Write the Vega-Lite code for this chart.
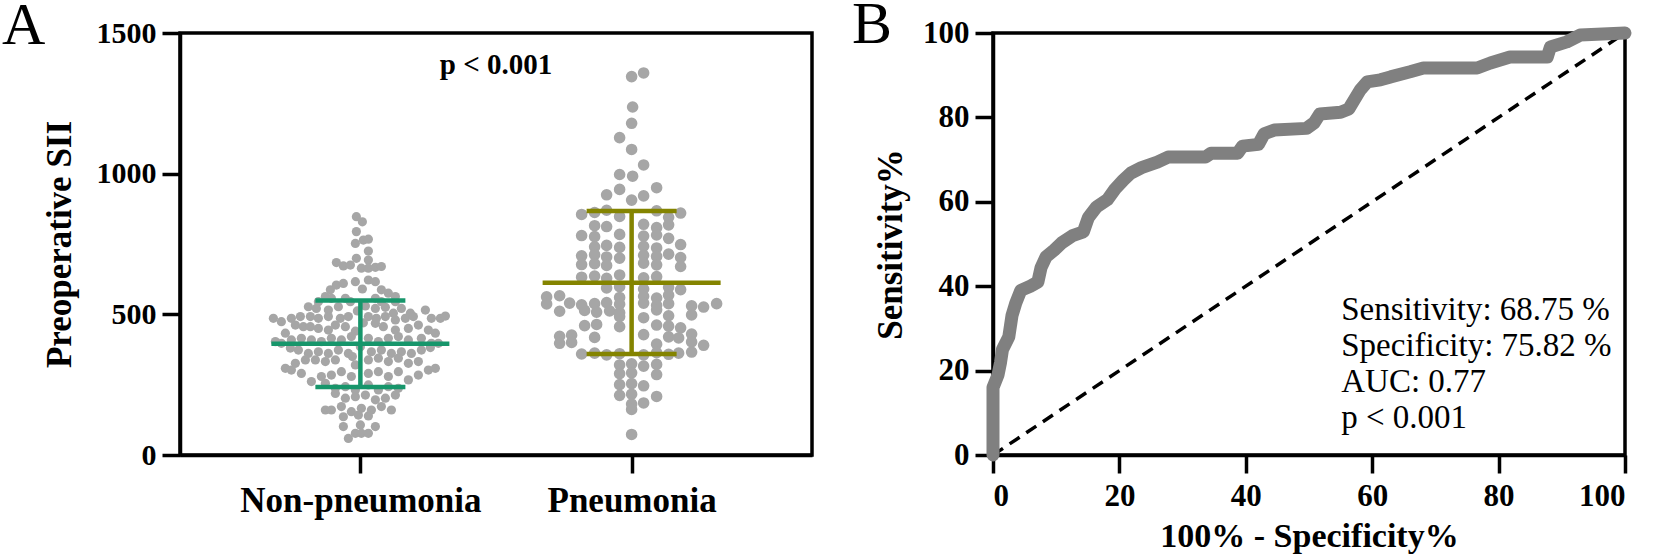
{
  "$schema": "https://vega.github.io/schema/vega-lite/v6.json",
  "background": "white",
  "padding": {"left": 0, "top": -7, "right": 0, "bottom": 0},
  "spacing": 36,
  "config": {
    "font": "Liberation Serif",
    "view": {"stroke": "black", "strokeWidth": 3.5},
    "axis": {
      "grid": false,
      "domainColor": "black", "domainWidth": 3.5,
      "tickColor": "black", "tickWidth": 3.5, "tickSize": 18,
      "labelColor": "black", "labelFont": "Liberation Serif", "labelFontWeight": "bold", "labelLimit": 500,
      "titleColor": "black", "titleFont": "Liberation Serif", "titleFontWeight": "bold"
    },
    "title": {"font": "Liberation Serif", "fontWeight": "normal", "color": "black", "fontSize": 60, "anchor": "start", "frame": "group", "baseline": "alphabetic"}
  },
  "hconcat": [
    {
      "width": 632,
      "height": 422,
      "title": {"text": "A", "dx": -178, "dy": 43},
      "layer": [
        {
          "data": {"values": [
            {"group": "Non-pneumonia", "sii": 847, "jitter": -4},
            {"group": "Non-pneumonia", "sii": 829, "jitter": 2},
            {"group": "Non-pneumonia", "sii": 794, "jitter": -4},
            {"group": "Non-pneumonia", "sii": 752, "jitter": -5},
            {"group": "Non-pneumonia", "sii": 764, "jitter": 3},
            {"group": "Non-pneumonia", "sii": 767, "jitter": 8},
            {"group": "Non-pneumonia", "sii": 725, "jitter": 8},
            {"group": "Non-pneumonia", "sii": 699, "jitter": -4},
            {"group": "Non-pneumonia", "sii": 693, "jitter": 8},
            {"group": "Non-pneumonia", "sii": 684, "jitter": -24},
            {"group": "Non-pneumonia", "sii": 672, "jitter": -17},
            {"group": "Non-pneumonia", "sii": 675, "jitter": -10},
            {"group": "Non-pneumonia", "sii": 664, "jitter": 1},
            {"group": "Non-pneumonia", "sii": 664, "jitter": 8},
            {"group": "Non-pneumonia", "sii": 667, "jitter": 15},
            {"group": "Non-pneumonia", "sii": 670, "jitter": 21},
            {"group": "Non-pneumonia", "sii": 587, "jitter": -30},
            {"group": "Non-pneumonia", "sii": 604, "jitter": -24},
            {"group": "Non-pneumonia", "sii": 610, "jitter": -17},
            {"group": "Non-pneumonia", "sii": 616, "jitter": -5},
            {"group": "Non-pneumonia", "sii": 622, "jitter": 8},
            {"group": "Non-pneumonia", "sii": 616, "jitter": 15},
            {"group": "Non-pneumonia", "sii": 590, "jitter": 2},
            {"group": "Non-pneumonia", "sii": 587, "jitter": 21},
            {"group": "Non-pneumonia", "sii": 575, "jitter": 28},
            {"group": "Non-pneumonia", "sii": 563, "jitter": 35},
            {"group": "Non-pneumonia", "sii": 545, "jitter": -42},
            {"group": "Non-pneumonia", "sii": 563, "jitter": -35},
            {"group": "Non-pneumonia", "sii": 557, "jitter": -29},
            {"group": "Non-pneumonia", "sii": 557, "jitter": -15},
            {"group": "Non-pneumonia", "sii": 545, "jitter": -10},
            {"group": "Non-pneumonia", "sii": 557, "jitter": 15},
            {"group": "Non-pneumonia", "sii": 545, "jitter": 21},
            {"group": "Non-pneumonia", "sii": 545, "jitter": 35},
            {"group": "Non-pneumonia", "sii": 527, "jitter": -52},
            {"group": "Non-pneumonia", "sii": 521, "jitter": -44},
            {"group": "Non-pneumonia", "sii": 515, "jitter": -32},
            {"group": "Non-pneumonia", "sii": 527, "jitter": -22},
            {"group": "Non-pneumonia", "sii": 521, "jitter": 15},
            {"group": "Non-pneumonia", "sii": 525, "jitter": 25},
            {"group": "Non-pneumonia", "sii": 521, "jitter": 41},
            {"group": "Non-pneumonia", "sii": 504, "jitter": 33},
            {"group": "Non-pneumonia", "sii": 504, "jitter": 50},
            {"group": "Non-pneumonia", "sii": 512, "jitter": -3},
            {"group": "Non-pneumonia", "sii": 530, "jitter": 5},
            {"group": "Non-pneumonia", "sii": 486, "jitter": -87},
            {"group": "Non-pneumonia", "sii": 474, "jitter": -79},
            {"group": "Non-pneumonia", "sii": 486, "jitter": -69},
            {"group": "Non-pneumonia", "sii": 492, "jitter": -60},
            {"group": "Non-pneumonia", "sii": 492, "jitter": -50},
            {"group": "Non-pneumonia", "sii": 486, "jitter": -42},
            {"group": "Non-pneumonia", "sii": 492, "jitter": -32},
            {"group": "Non-pneumonia", "sii": 486, "jitter": -20},
            {"group": "Non-pneumonia", "sii": 492, "jitter": -12},
            {"group": "Non-pneumonia", "sii": 492, "jitter": 8},
            {"group": "Non-pneumonia", "sii": 486, "jitter": 16},
            {"group": "Non-pneumonia", "sii": 492, "jitter": 25},
            {"group": "Non-pneumonia", "sii": 480, "jitter": 35},
            {"group": "Non-pneumonia", "sii": 486, "jitter": 45},
            {"group": "Non-pneumonia", "sii": 492, "jitter": 53},
            {"group": "Non-pneumonia", "sii": 515, "jitter": 65},
            {"group": "Non-pneumonia", "sii": 486, "jitter": 71},
            {"group": "Non-pneumonia", "sii": 486, "jitter": 80},
            {"group": "Non-pneumonia", "sii": 494, "jitter": 85},
            {"group": "Non-pneumonia", "sii": 433, "jitter": -75},
            {"group": "Non-pneumonia", "sii": 462, "jitter": -65},
            {"group": "Non-pneumonia", "sii": 456, "jitter": -57},
            {"group": "Non-pneumonia", "sii": 456, "jitter": -50},
            {"group": "Non-pneumonia", "sii": 450, "jitter": -42},
            {"group": "Non-pneumonia", "sii": 444, "jitter": -32},
            {"group": "Non-pneumonia", "sii": 462, "jitter": -25},
            {"group": "Non-pneumonia", "sii": 456, "jitter": -15},
            {"group": "Non-pneumonia", "sii": 468, "jitter": 15},
            {"group": "Non-pneumonia", "sii": 456, "jitter": 23},
            {"group": "Non-pneumonia", "sii": 444, "jitter": 35},
            {"group": "Non-pneumonia", "sii": 450, "jitter": 48},
            {"group": "Non-pneumonia", "sii": 462, "jitter": 58},
            {"group": "Non-pneumonia", "sii": 444, "jitter": 68},
            {"group": "Non-pneumonia", "sii": 433, "jitter": 75},
            {"group": "Non-pneumonia", "sii": 440, "jitter": -5},
            {"group": "Non-pneumonia", "sii": 470, "jitter": 3},
            {"group": "Non-pneumonia", "sii": 403, "jitter": -85},
            {"group": "Non-pneumonia", "sii": 397, "jitter": -79},
            {"group": "Non-pneumonia", "sii": 409, "jitter": -69},
            {"group": "Non-pneumonia", "sii": 415, "jitter": -59},
            {"group": "Non-pneumonia", "sii": 409, "jitter": -49},
            {"group": "Non-pneumonia", "sii": 403, "jitter": -39},
            {"group": "Non-pneumonia", "sii": 415, "jitter": -29},
            {"group": "Non-pneumonia", "sii": 409, "jitter": -19},
            {"group": "Non-pneumonia", "sii": 421, "jitter": -9},
            {"group": "Non-pneumonia", "sii": 415, "jitter": 8},
            {"group": "Non-pneumonia", "sii": 403, "jitter": 18},
            {"group": "Non-pneumonia", "sii": 415, "jitter": 28},
            {"group": "Non-pneumonia", "sii": 421, "jitter": 38},
            {"group": "Non-pneumonia", "sii": 409, "jitter": 48},
            {"group": "Non-pneumonia", "sii": 415, "jitter": 61},
            {"group": "Non-pneumonia", "sii": 397, "jitter": 71},
            {"group": "Non-pneumonia", "sii": 397, "jitter": 78},
            {"group": "Non-pneumonia", "sii": 373, "jitter": -62},
            {"group": "Non-pneumonia", "sii": 361, "jitter": -52},
            {"group": "Non-pneumonia", "sii": 367, "jitter": -42},
            {"group": "Non-pneumonia", "sii": 361, "jitter": -32},
            {"group": "Non-pneumonia", "sii": 373, "jitter": -22},
            {"group": "Non-pneumonia", "sii": 361, "jitter": -12},
            {"group": "Non-pneumonia", "sii": 367, "jitter": 11},
            {"group": "Non-pneumonia", "sii": 373, "jitter": 21},
            {"group": "Non-pneumonia", "sii": 361, "jitter": 31},
            {"group": "Non-pneumonia", "sii": 367, "jitter": 41},
            {"group": "Non-pneumonia", "sii": 361, "jitter": 51},
            {"group": "Non-pneumonia", "sii": 373, "jitter": 61},
            {"group": "Non-pneumonia", "sii": 385, "jitter": 0},
            {"group": "Non-pneumonia", "sii": 380, "jitter": -70},
            {"group": "Non-pneumonia", "sii": 382, "jitter": 70},
            {"group": "Non-pneumonia", "sii": 308, "jitter": -75},
            {"group": "Non-pneumonia", "sii": 326, "jitter": -65},
            {"group": "Non-pneumonia", "sii": 338, "jitter": -55},
            {"group": "Non-pneumonia", "sii": 338, "jitter": -45},
            {"group": "Non-pneumonia", "sii": 332, "jitter": -35},
            {"group": "Non-pneumonia", "sii": 338, "jitter": -25},
            {"group": "Non-pneumonia", "sii": 338, "jitter": 8},
            {"group": "Non-pneumonia", "sii": 344, "jitter": 18},
            {"group": "Non-pneumonia", "sii": 332, "jitter": 28},
            {"group": "Non-pneumonia", "sii": 344, "jitter": 38},
            {"group": "Non-pneumonia", "sii": 326, "jitter": 48},
            {"group": "Non-pneumonia", "sii": 332, "jitter": 58},
            {"group": "Non-pneumonia", "sii": 302, "jitter": 68},
            {"group": "Non-pneumonia", "sii": 308, "jitter": 75},
            {"group": "Non-pneumonia", "sii": 320, "jitter": -5},
            {"group": "Non-pneumonia", "sii": 350, "jitter": -8},
            {"group": "Non-pneumonia", "sii": 302, "jitter": -69},
            {"group": "Non-pneumonia", "sii": 290, "jitter": -59},
            {"group": "Non-pneumonia", "sii": 261, "jitter": -49},
            {"group": "Non-pneumonia", "sii": 279, "jitter": -39},
            {"group": "Non-pneumonia", "sii": 284, "jitter": -29},
            {"group": "Non-pneumonia", "sii": 296, "jitter": -19},
            {"group": "Non-pneumonia", "sii": 279, "jitter": -9},
            {"group": "Non-pneumonia", "sii": 290, "jitter": 8},
            {"group": "Non-pneumonia", "sii": 296, "jitter": 18},
            {"group": "Non-pneumonia", "sii": 279, "jitter": 28},
            {"group": "Non-pneumonia", "sii": 296, "jitter": 38},
            {"group": "Non-pneumonia", "sii": 267, "jitter": 48},
            {"group": "Non-pneumonia", "sii": 284, "jitter": 58},
            {"group": "Non-pneumonia", "sii": 255, "jitter": -35},
            {"group": "Non-pneumonia", "sii": 237, "jitter": -25},
            {"group": "Non-pneumonia", "sii": 243, "jitter": -15},
            {"group": "Non-pneumonia", "sii": 231, "jitter": -5},
            {"group": "Non-pneumonia", "sii": 249, "jitter": 8},
            {"group": "Non-pneumonia", "sii": 231, "jitter": 18},
            {"group": "Non-pneumonia", "sii": 243, "jitter": 28},
            {"group": "Non-pneumonia", "sii": 237, "jitter": 38},
            {"group": "Non-pneumonia", "sii": 219, "jitter": -25},
            {"group": "Non-pneumonia", "sii": 202, "jitter": -15},
            {"group": "Non-pneumonia", "sii": 207, "jitter": -5},
            {"group": "Non-pneumonia", "sii": 213, "jitter": 5},
            {"group": "Non-pneumonia", "sii": 196, "jitter": 15},
            {"group": "Non-pneumonia", "sii": 202, "jitter": 25},
            {"group": "Non-pneumonia", "sii": 213, "jitter": 35},
            {"group": "Non-pneumonia", "sii": 160, "jitter": -35},
            {"group": "Non-pneumonia", "sii": 160, "jitter": -29},
            {"group": "Non-pneumonia", "sii": 172, "jitter": -19},
            {"group": "Non-pneumonia", "sii": 154, "jitter": -9},
            {"group": "Non-pneumonia", "sii": 166, "jitter": 1},
            {"group": "Non-pneumonia", "sii": 160, "jitter": 11},
            {"group": "Non-pneumonia", "sii": 172, "jitter": 21},
            {"group": "Non-pneumonia", "sii": 160, "jitter": 31},
            {"group": "Non-pneumonia", "sii": 136, "jitter": -17},
            {"group": "Non-pneumonia", "sii": 142, "jitter": -2},
            {"group": "Non-pneumonia", "sii": 139, "jitter": 8},
            {"group": "Non-pneumonia", "sii": 101, "jitter": -17},
            {"group": "Non-pneumonia", "sii": 107, "jitter": 0},
            {"group": "Non-pneumonia", "sii": 101, "jitter": 15},
            {"group": "Non-pneumonia", "sii": 77, "jitter": -5},
            {"group": "Non-pneumonia", "sii": 77, "jitter": 1},
            {"group": "Non-pneumonia", "sii": 59, "jitter": -12},
            {"group": "Non-pneumonia", "sii": 77, "jitter": 8},
            {"group": "Pneumonia", "sii": 1345, "jitter": 0},
            {"group": "Pneumonia", "sii": 1358, "jitter": 12},
            {"group": "Pneumonia", "sii": 1237, "jitter": 1},
            {"group": "Pneumonia", "sii": 1179, "jitter": 0},
            {"group": "Pneumonia", "sii": 1128, "jitter": -12},
            {"group": "Pneumonia", "sii": 1086, "jitter": 0},
            {"group": "Pneumonia", "sii": 1031, "jitter": 12},
            {"group": "Pneumonia", "sii": 997, "jitter": -12},
            {"group": "Pneumonia", "sii": 991, "jitter": 1},
            {"group": "Pneumonia", "sii": 925, "jitter": -25},
            {"group": "Pneumonia", "sii": 944, "jitter": -12},
            {"group": "Pneumonia", "sii": 921, "jitter": 12},
            {"group": "Pneumonia", "sii": 950, "jitter": 25},
            {"group": "Pneumonia", "sii": 906, "jitter": 0},
            {"group": "Pneumonia", "sii": 855, "jitter": -50},
            {"group": "Pneumonia", "sii": 862, "jitter": -37},
            {"group": "Pneumonia", "sii": 870, "jitter": -25},
            {"group": "Pneumonia", "sii": 848, "jitter": -12},
            {"group": "Pneumonia", "sii": 868, "jitter": 25},
            {"group": "Pneumonia", "sii": 845, "jitter": 37},
            {"group": "Pneumonia", "sii": 860, "jitter": 49},
            {"group": "Pneumonia", "sii": 815, "jitter": -37},
            {"group": "Pneumonia", "sii": 812, "jitter": -25},
            {"group": "Pneumonia", "sii": 820, "jitter": 12},
            {"group": "Pneumonia", "sii": 808, "jitter": 25},
            {"group": "Pneumonia", "sii": 818, "jitter": 37},
            {"group": "Pneumonia", "sii": 780, "jitter": -50},
            {"group": "Pneumonia", "sii": 776, "jitter": -37},
            {"group": "Pneumonia", "sii": 784, "jitter": -12},
            {"group": "Pneumonia", "sii": 778, "jitter": 12},
            {"group": "Pneumonia", "sii": 782, "jitter": 25},
            {"group": "Pneumonia", "sii": 770, "jitter": 37},
            {"group": "Pneumonia", "sii": 740, "jitter": -37},
            {"group": "Pneumonia", "sii": 745, "jitter": -25},
            {"group": "Pneumonia", "sii": 738, "jitter": -12},
            {"group": "Pneumonia", "sii": 742, "jitter": 12},
            {"group": "Pneumonia", "sii": 736, "jitter": 25},
            {"group": "Pneumonia", "sii": 748, "jitter": 49},
            {"group": "Pneumonia", "sii": 708, "jitter": -50},
            {"group": "Pneumonia", "sii": 712, "jitter": -37},
            {"group": "Pneumonia", "sii": 704, "jitter": -25},
            {"group": "Pneumonia", "sii": 700, "jitter": -12},
            {"group": "Pneumonia", "sii": 710, "jitter": 12},
            {"group": "Pneumonia", "sii": 706, "jitter": 25},
            {"group": "Pneumonia", "sii": 714, "jitter": 37},
            {"group": "Pneumonia", "sii": 702, "jitter": 49},
            {"group": "Pneumonia", "sii": 677, "jitter": -50},
            {"group": "Pneumonia", "sii": 680, "jitter": -37},
            {"group": "Pneumonia", "sii": 674, "jitter": -25},
            {"group": "Pneumonia", "sii": 682, "jitter": 12},
            {"group": "Pneumonia", "sii": 676, "jitter": 25},
            {"group": "Pneumonia", "sii": 670, "jitter": 49},
            {"group": "Pneumonia", "sii": 632, "jitter": -50},
            {"group": "Pneumonia", "sii": 636, "jitter": -37},
            {"group": "Pneumonia", "sii": 628, "jitter": -25},
            {"group": "Pneumonia", "sii": 640, "jitter": -12},
            {"group": "Pneumonia", "sii": 630, "jitter": 12},
            {"group": "Pneumonia", "sii": 634, "jitter": 25},
            {"group": "Pneumonia", "sii": 594, "jitter": -25},
            {"group": "Pneumonia", "sii": 598, "jitter": -12},
            {"group": "Pneumonia", "sii": 590, "jitter": 12},
            {"group": "Pneumonia", "sii": 596, "jitter": 37},
            {"group": "Pneumonia", "sii": 588, "jitter": 49},
            {"group": "Pneumonia", "sii": 562, "jitter": -85},
            {"group": "Pneumonia", "sii": 566, "jitter": -72},
            {"group": "Pneumonia", "sii": 560, "jitter": -12},
            {"group": "Pneumonia", "sii": 564, "jitter": 12},
            {"group": "Pneumonia", "sii": 558, "jitter": 25},
            {"group": "Pneumonia", "sii": 568, "jitter": 37},
            {"group": "Pneumonia", "sii": 537, "jitter": -85},
            {"group": "Pneumonia", "sii": 540, "jitter": -62},
            {"group": "Pneumonia", "sii": 534, "jitter": -50},
            {"group": "Pneumonia", "sii": 538, "jitter": -37},
            {"group": "Pneumonia", "sii": 542, "jitter": -25},
            {"group": "Pneumonia", "sii": 536, "jitter": -12},
            {"group": "Pneumonia", "sii": 540, "jitter": 12},
            {"group": "Pneumonia", "sii": 532, "jitter": 25},
            {"group": "Pneumonia", "sii": 538, "jitter": 37},
            {"group": "Pneumonia", "sii": 530, "jitter": 60},
            {"group": "Pneumonia", "sii": 526, "jitter": 72},
            {"group": "Pneumonia", "sii": 538, "jitter": 85},
            {"group": "Pneumonia", "sii": 511, "jitter": -72},
            {"group": "Pneumonia", "sii": 514, "jitter": -47},
            {"group": "Pneumonia", "sii": 508, "jitter": -35},
            {"group": "Pneumonia", "sii": 512, "jitter": -22},
            {"group": "Pneumonia", "sii": 506, "jitter": -12},
            {"group": "Pneumonia", "sii": 516, "jitter": 25},
            {"group": "Pneumonia", "sii": 492, "jitter": -12},
            {"group": "Pneumonia", "sii": 488, "jitter": 12},
            {"group": "Pneumonia", "sii": 495, "jitter": 37},
            {"group": "Pneumonia", "sii": 498, "jitter": 60},
            {"group": "Pneumonia", "sii": 460, "jitter": -47},
            {"group": "Pneumonia", "sii": 464, "jitter": -35},
            {"group": "Pneumonia", "sii": 456, "jitter": -12},
            {"group": "Pneumonia", "sii": 462, "jitter": 25},
            {"group": "Pneumonia", "sii": 458, "jitter": 37},
            {"group": "Pneumonia", "sii": 452, "jitter": 49},
            {"group": "Pneumonia", "sii": 422, "jitter": -72},
            {"group": "Pneumonia", "sii": 426, "jitter": -60},
            {"group": "Pneumonia", "sii": 418, "jitter": -37},
            {"group": "Pneumonia", "sii": 428, "jitter": 12},
            {"group": "Pneumonia", "sii": 420, "jitter": 37},
            {"group": "Pneumonia", "sii": 416, "jitter": 47},
            {"group": "Pneumonia", "sii": 430, "jitter": 60},
            {"group": "Pneumonia", "sii": 397, "jitter": -72},
            {"group": "Pneumonia", "sii": 400, "jitter": -60},
            {"group": "Pneumonia", "sii": 394, "jitter": 25},
            {"group": "Pneumonia", "sii": 402, "jitter": 60},
            {"group": "Pneumonia", "sii": 390, "jitter": 72},
            {"group": "Pneumonia", "sii": 359, "jitter": -50},
            {"group": "Pneumonia", "sii": 362, "jitter": -37},
            {"group": "Pneumonia", "sii": 356, "jitter": -25},
            {"group": "Pneumonia", "sii": 360, "jitter": -12},
            {"group": "Pneumonia", "sii": 356, "jitter": 12},
            {"group": "Pneumonia", "sii": 364, "jitter": 25},
            {"group": "Pneumonia", "sii": 358, "jitter": 37},
            {"group": "Pneumonia", "sii": 362, "jitter": 47},
            {"group": "Pneumonia", "sii": 366, "jitter": 60},
            {"group": "Pneumonia", "sii": 320, "jitter": -12},
            {"group": "Pneumonia", "sii": 324, "jitter": 0},
            {"group": "Pneumonia", "sii": 316, "jitter": 12},
            {"group": "Pneumonia", "sii": 322, "jitter": 25},
            {"group": "Pneumonia", "sii": 289, "jitter": -12},
            {"group": "Pneumonia", "sii": 292, "jitter": 0},
            {"group": "Pneumonia", "sii": 286, "jitter": 25},
            {"group": "Pneumonia", "sii": 250, "jitter": -12},
            {"group": "Pneumonia", "sii": 254, "jitter": 0},
            {"group": "Pneumonia", "sii": 246, "jitter": 12},
            {"group": "Pneumonia", "sii": 212, "jitter": -12},
            {"group": "Pneumonia", "sii": 216, "jitter": 0},
            {"group": "Pneumonia", "sii": 208, "jitter": 25},
            {"group": "Pneumonia", "sii": 181, "jitter": 0},
            {"group": "Pneumonia", "sii": 185, "jitter": 12},
            {"group": "Pneumonia", "sii": 162, "jitter": 0},
            {"group": "Pneumonia", "sii": 73, "jitter": 0}
          ]},
          "mark": {"type": "circle", "color": "#a6a6a6", "opacity": 1},
          "encoding": {
            "x": {
              "field": "group", "type": "nominal",
              "scale": {"type": "point", "domain": ["Non-pneumonia", "Pneumonia"], "padding": 0.665},
              "axis": {"title": null, "labelAngle": 0, "labelFontSize": 35, "labelPadding": 10}
            },
            "xOffset": {"field": "jitter", "type": "quantitative", "scale": {"domain": [-100, 100], "range": [-100, 100]}},
            "y": {
              "field": "sii", "type": "quantitative",
              "scale": {"domain": [0, 1500], "nice": false},
              "axis": {"values": [0, 500, 1000, 1500], "format": "d", "title": "Preoperative SII", "labelFontSize": 30, "labelPadding": 6, "titleFontSize": 35, "titlePadding": 19}
            },
            "size": {"field": "group", "type": "nominal", "scale": {"domain": ["Non-pneumonia", "Pneumonia"], "range": [85, 135]}, "legend": null}
          }
        },
        {
          "data": {"name": "summary", "values": [
            {"group": "Non-pneumonia", "mean": 395, "lo": 242, "hi": 549},
            {"group": "Pneumonia", "mean": 612, "lo": 359, "hi": 867}
          ]},
          "layer": [
            {
              "mark": {"type": "rule", "strokeWidth": 4.5, "opacity": 1},
              "encoding": {
                "x": {"field": "group", "type": "nominal"},
                "y": {"field": "lo", "type": "quantitative"},
                "y2": {"field": "hi"},
                "color": {"field": "group", "type": "nominal", "scale": {"domain": ["Non-pneumonia", "Pneumonia"], "range": ["#17966b", "#848400"]}, "legend": null}
              }
            },
            {
              "mark": {"type": "tick", "size": 178, "thickness": 4.5, "opacity": 1},
              "encoding": {
                "x": {"field": "group", "type": "nominal"},
                "y": {"field": "mean", "type": "quantitative"},
                "color": {"field": "group", "type": "nominal", "legend": null}
              }
            },
            {
              "mark": {"type": "tick", "size": 90, "thickness": 4.5, "opacity": 1},
              "encoding": {
                "x": {"field": "group", "type": "nominal"},
                "y": {"field": "lo", "type": "quantitative"},
                "color": {"field": "group", "type": "nominal", "legend": null}
              }
            },
            {
              "mark": {"type": "tick", "size": 90, "thickness": 4.5, "opacity": 1},
              "encoding": {
                "x": {"field": "group", "type": "nominal"},
                "y": {"field": "hi", "type": "quantitative"},
                "color": {"field": "group", "type": "nominal", "legend": null}
              }
            }
          ]
        },
        {
          "data": {"values": [{"label": "p < 0.001"}]},
          "mark": {"type": "text", "font": "Liberation Serif", "fontWeight": "bold", "fontSize": 29, "baseline": "alphabetic", "align": "center", "color": "black"},
          "encoding": {
            "y": {"datum": 1354, "type": "quantitative"},
            "text": {"field": "label"}
          }
        }
      ]
    },
    {
      "width": 632,
      "height": 422,
      "title": {"text": "B", "dx": -141, "dy": 43},
      "layer": [
        {
          "data": {"values": [{"fpr": 0, "tpr": 0}, {"fpr": 100, "tpr": 100}]},
          "mark": {"type": "line", "color": "black", "strokeWidth": 3.5, "strokeDash": [12, 8]},
          "encoding": {
            "x": {
              "field": "fpr", "type": "quantitative",
              "scale": {"domain": [0, 100], "nice": false},
              "axis": {"values": [0, 20, 40, 60, 80, 100], "title": "100% - Specificity%", "labelFontSize": 31, "labelPadding": 8, "titleFontSize": 34, "titlePadding": 8}
            },
            "y": {
              "field": "tpr", "type": "quantitative",
              "scale": {"domain": [0, 100], "nice": false},
              "axis": {"values": [0, 20, 40, 60, 80, 100], "title": "Sensitivity%", "labelFontSize": 31, "labelPadding": 6, "titleFontSize": 35, "titlePadding": 14}
            }
          }
        },
        {
          "data": {"values": [
            {"fpr": 0, "tpr": 0}, {"fpr": 0, "tpr": 16}, {"fpr": 0.8, "tpr": 19}, {"fpr": 1.2, "tpr": 22},
            {"fpr": 1.5, "tpr": 25}, {"fpr": 2.5, "tpr": 28}, {"fpr": 3, "tpr": 33}, {"fpr": 3.6, "tpr": 36},
            {"fpr": 4.4, "tpr": 39}, {"fpr": 5.9, "tpr": 40}, {"fpr": 7.1, "tpr": 41}, {"fpr": 7.6, "tpr": 44.4},
            {"fpr": 8.4, "tpr": 47}, {"fpr": 9.7, "tpr": 48.6}, {"fpr": 10.9, "tpr": 50.3}, {"fpr": 12.6, "tpr": 52},
            {"fpr": 14.3, "tpr": 52.9}, {"fpr": 15.1, "tpr": 56.3}, {"fpr": 16.4, "tpr": 58.8}, {"fpr": 18.1, "tpr": 60.5},
            {"fpr": 19.3, "tpr": 63}, {"fpr": 20.6, "tpr": 65.1}, {"fpr": 21.8, "tpr": 66.8}, {"fpr": 23.5, "tpr": 68.1},
            {"fpr": 26, "tpr": 69.4}, {"fpr": 27.7, "tpr": 70.6}, {"fpr": 33.6, "tpr": 70.6}, {"fpr": 34.5, "tpr": 71.5},
            {"fpr": 38.7, "tpr": 71.5}, {"fpr": 39.5, "tpr": 73.2}, {"fpr": 42, "tpr": 73.6}, {"fpr": 42.9, "tpr": 76.1},
            {"fpr": 44.5, "tpr": 77}, {"fpr": 49.6, "tpr": 77.4}, {"fpr": 50.8, "tpr": 78.7}, {"fpr": 51.7, "tpr": 80.8},
            {"fpr": 55, "tpr": 81.2}, {"fpr": 56.3, "tpr": 82}, {"fpr": 58.1, "tpr": 86.5}, {"fpr": 59.2, "tpr": 88.4},
            {"fpr": 61.3, "tpr": 88.9}, {"fpr": 62.9, "tpr": 89.6}, {"fpr": 66, "tpr": 90.8}, {"fpr": 68.1, "tpr": 91.7},
            {"fpr": 76.6, "tpr": 91.7}, {"fpr": 78.7, "tpr": 92.9}, {"fpr": 81.8, "tpr": 94.3}, {"fpr": 87.7, "tpr": 94.3},
            {"fpr": 88.2, "tpr": 96.7}, {"fpr": 90.8, "tpr": 97.9}, {"fpr": 92.9, "tpr": 99.5}, {"fpr": 100, "tpr": 100}
          ]},
          "mark": {"type": "line", "color": "#808080", "strokeWidth": 13, "strokeCap": "round", "strokeJoin": "round"},
          "encoding": {
            "x": {"field": "fpr", "type": "quantitative"},
            "y": {"field": "tpr", "type": "quantitative"},
            "order": {"value": null}
          }
        },
        {
          "data": {"values": [{"label": ["Sensitivity: 68.75 %", "Specificity: 75.82 %", "AUC: 0.77", "p < 0.001"]}]},
          "mark": {"type": "text", "font": "Liberation Serif", "fontSize": 33, "lineHeight": 36, "align": "left", "baseline": "alphabetic", "color": "black"},
          "encoding": {
            "x": {"datum": 55.1, "type": "quantitative"},
            "y": {"datum": 32, "type": "quantitative"},
            "text": {"field": "label"}
          }
        }
      ]
    }
  ]
}
